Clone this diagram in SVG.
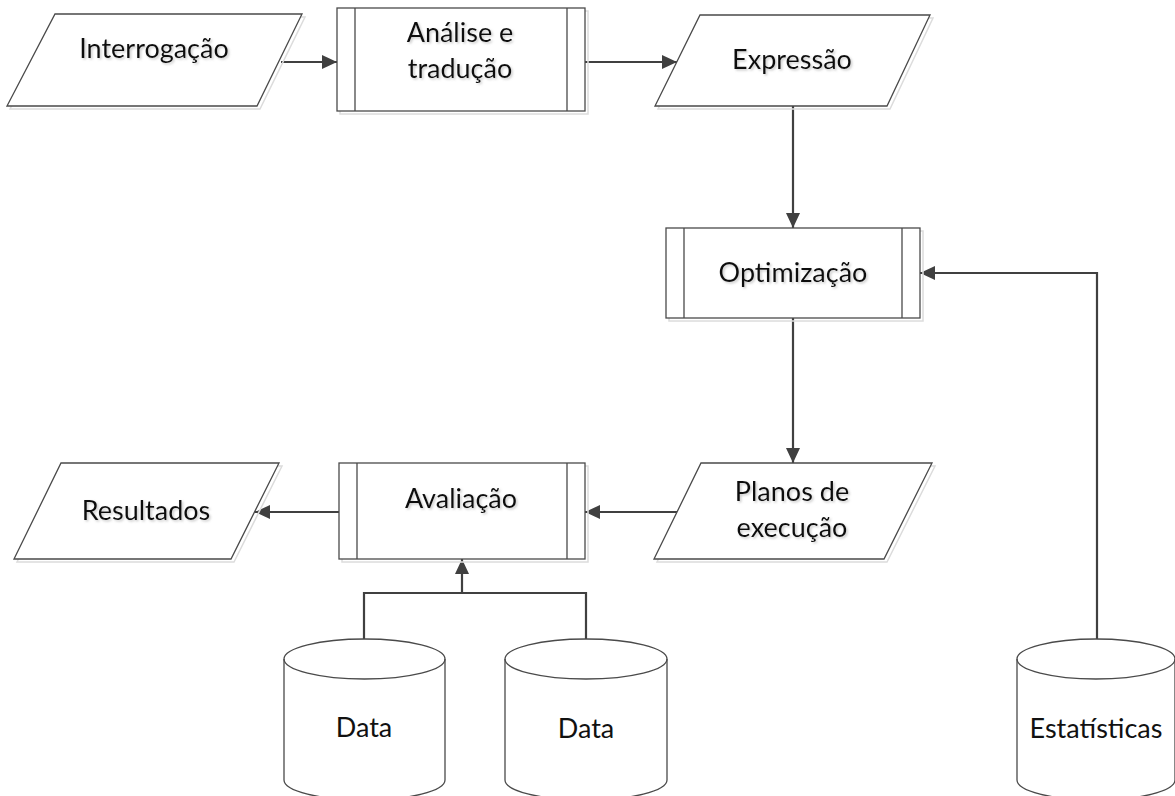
<svg xmlns="http://www.w3.org/2000/svg" width="1175" height="796" viewBox="0 0 1175 796">
<style>
.sh{fill:none;stroke:#dcdcdc;stroke-width:1.5}
.sp{fill:#ffffff;stroke:#4a4a4a;stroke-width:1.3}
.in{fill:none;stroke:#4a4a4a;stroke-width:1.3}
.t{font-family:Lato,"Liberation Sans",sans-serif;font-size:27px;fill:#111111;text-anchor:middle}
.c{fill:none;stroke:#404040;stroke-width:2.2}
</style>
<defs>
<marker id="ah" viewBox="0 0 15 14" refX="15" refY="7" markerWidth="15" markerHeight="14" markerUnits="userSpaceOnUse" orient="auto">
<path d="M0,0 L15,7 L0,14 z" fill="#404040"/>
</marker>
<filter id="ts" x="-10%" y="-20%" width="130%" height="160%">
<feDropShadow dx="1.5" dy="1.5" stdDeviation="1" flood-color="#888" flood-opacity="0.45"/>
</filter>
</defs>
<rect width="1175" height="796" fill="#ffffff"/>

<g id="connectors">
<path class="c" d="M281,62 H337" marker-end="url(#ah)"/>
<path class="c" d="M585,62 H677" marker-end="url(#ah)"/>
<path class="c" d="M793,106 V228" marker-end="url(#ah)"/>
<path class="c" d="M1097,639 V273 H920" marker-end="url(#ah)"/>
<path class="c" d="M793,318 V463" marker-end="url(#ah)"/>
<path class="c" d="M677,512 H585" marker-end="url(#ah)"/>
<path class="c" d="M339,512 H255" marker-end="url(#ah)"/>
<path class="c" d="M364,639 V593 H586 V639"/>
<path class="c" d="M462,593 V559" marker-end="url(#ah)"/>
</g>

<g id="interrogacao">
<polygon class="sh" points="58,17 305,17 260,109 10,109"/>
<polygon class="sp" points="55,14 302,14 257,106 7,106"/>
<text class="t" x="154" y="58" filter="url(#ts)">Interrogação</text>
</g>

<g id="analise">
<rect class="sh" x="340" y="11" width="248" height="103"/>
<rect class="sp" x="337" y="8" width="248" height="103"/>
<path class="in" d="M355,8 V111 M567,8 V111"/>
<text class="t" x="460" y="42" filter="url(#ts)">Análise e</text>
<text class="t" x="460" y="78" filter="url(#ts)">tradução</text>
</g>

<g id="expressao">
<polygon class="sh" points="703,18 933,18 890,109 658,109"/>
<polygon class="sp" points="700,15 930,15 887,106 655,106"/>
<text class="t" x="792" y="69" filter="url(#ts)">Expressão</text>
</g>

<g id="optimizacao">
<rect class="sh" x="669" y="231" width="254" height="90"/>
<rect class="sp" x="666" y="228" width="254" height="90"/>
<path class="in" d="M684,228 V318 M902,228 V318"/>
<text class="t" x="793" y="282" filter="url(#ts)">Optimização</text>
</g>

<g id="planos">
<polygon class="sh" points="704,466 935,466 887,562 657,562"/>
<polygon class="sp" points="701,463 932,463 884,559 654,559"/>
<text class="t" x="792" y="501" filter="url(#ts)">Planos de</text>
<text class="t" x="792" y="537" filter="url(#ts)">execução</text>
</g>

<g id="avaliacao">
<rect class="sh" x="342" y="466" width="246" height="96"/>
<rect class="sp" x="339" y="463" width="246" height="96"/>
<path class="in" d="M357,463 V559 M567,463 V559"/>
<text class="t" x="461" y="508" filter="url(#ts)">Avaliação</text>
</g>

<g id="resultados">
<polygon class="sh" points="64,466 282,466 234,562 17,562"/>
<polygon class="sp" points="61,463 279,463 231,559 14,559"/>
<text class="t" x="146" y="520" filter="url(#ts)">Resultados</text>
</g>

<g id="data1">
<path class="sp" d="M284,659 V780 A80.5,20 0 0 0 445,780 V659 A80.5,20 0 0 0 284,659 Z"/>
<path class="in" d="M284,659 A80.5,20 0 0 0 445,659"/>
<text class="t" x="364" y="737">Data</text>
</g>

<g id="data2">
<path class="sp" d="M505,659 V780 A81,20 0 0 0 667,780 V659 A81,20 0 0 0 505,659 Z"/>
<path class="in" d="M505,659 A81,20 0 0 0 667,659"/>
<text class="t" x="586" y="738">Data</text>
</g>

<g id="estatisticas">
<path class="sp" d="M1017,659 V780 A79,20 0 0 0 1175,780 V659 A79,20 0 0 0 1017,659 Z"/>
<path class="in" d="M1017,659 A79,20 0 0 0 1175,659"/>
<text class="t" x="1096" y="738">Estatísticas</text>
</g>
</svg>
